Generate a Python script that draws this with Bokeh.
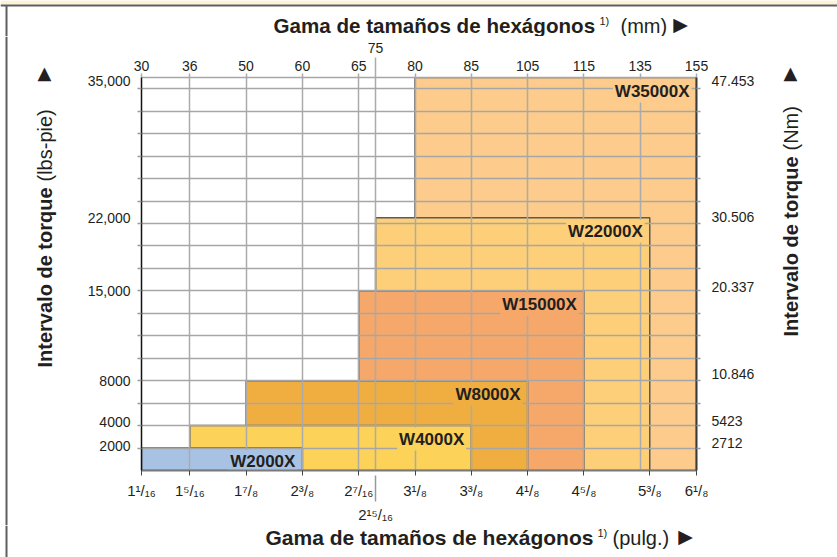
import numpy as np
from bokeh.plotting import figure
from bokeh.layouts import column, row
from bokeh.models import (ColumnDataSource, LinearAxis, FixedTicker, Range1d, Grid)
from bokeh.embed import file_html
from bokeh.resources import INLINE
from bokeh.core.properties import value

# ---------------- data ----------------
tools = ["W35000X", "W22000X", "W15000X", "W8000X", "W4000X", "W2000X"]
hex_min = ["3¹/₈", "2¹⁵/₁₆", "2⁷/₁₆", "1⁷/₈", "1⁵/₁₆", "1¹/₁₆"]
hex_max = ["6¹/₈", "5³/₈", "4⁵/₈", "4¹/₈", "3³/₈", "2³/₈"]
torque_max = [35000, 22000, 15000, 8000, 4000, 2000]
colors = ["#FDCB8B", "#FECF79", "#F6A86B", "#F0AE40", "#FDD259", "#A8C2E4"]

inch_labels = ["1¹/₁₆", "1⁵/₁₆", "1⁷/₈", "2³/₈", "2⁷/₁₆", "2¹⁵/₁₆", "3¹/₈",
               "3³/₈", "4¹/₈", "4⁵/₈", "5³/₈", "6¹/₈"]
mm_labels = ["30", "36", "50", "60", "65", "75", "80", "85", "105", "115", "135", "155"]
torque_ticks = [2000, 4000, 8000, 15000, 22000, 35000]
lbft_labels = ["2000", "4000", "8000", "15,000", "22,000", "35,000"]
nm_labels = ["2712", "5423", "10.846", "20.337", "30.506", "47.453"]

# ------------- non-uniform axis layout (slot units) -------------
inch_pos = [0.142, 1, 2, 3, 4, 4.3, 5, 6, 7, 8, 9.17, 10]
mm_pos = [0.142, 1, 2, 3, 4, 4.3, 5, 6, 7, 8, 9, 10]
torque_pos = [1, 2, 4, 8, 11.25, 17.5]
grid_rows = list(range(1, 18))
lbft_shift_px = [-2, -4, 0, 0, 0, 4]     # small vertical nudges of tick labels
nm_shift_px = [-5, -5, -7, -4, -1, 4]

# ------------- page layout -------------
PAGE_W, PAGE_H = 837, 557
TOP_H, BOT_Y = 36, 525
LEFT_W, MAIN_W = 70, 690
FRAME_L, FRAME_R, FRAME_T, FRAME_B = 141, 696, 77, 471
X_START, X_END = 0.142, 10.0
Y_START, Y_END = 0.0, 17.5
PX_PER_Y = (FRAME_B - FRAME_T) / (Y_END - Y_START)

FONT = "Liberation Sans"
TXT = "#231F20"
FRAME_COL = "#5e5e5e"


def no_align(f):
    if "frame_align" in f.properties():
        f.frame_align = False


def y_of(t):
    return float(np.interp(t, [0] + torque_ticks, [0] + torque_pos))


x0 = [inch_pos[inch_labels.index(m)] for m in hex_min]
x1 = [inch_pos[inch_labels.index(m)] for m in hex_max]
top = [y_of(t) for t in torque_max]
src = ColumnDataSource(dict(tool=tools, x0=x0, x1=x1, y0=[0] * len(tools), top=top, color=colors))

MAIN_H = BOT_Y - TOP_H
p = figure(width=MAIN_W, height=MAIN_H, x_range=Range1d(X_START, X_END),
           y_range=Range1d(Y_START, Y_END), output_backend="svg", toolbar_location=None,
           x_axis_location=None, y_axis_location=None,
           min_border_left=FRAME_L - LEFT_W, min_border_right=LEFT_W + MAIN_W - FRAME_R,
           min_border_top=FRAME_T - TOP_H, min_border_bottom=BOT_Y - FRAME_B)
no_align(p)
p.grid.visible = False
p.outline_line_color = None
p.background_fill_color = "white"
p.border_fill_color = "white"

# boxes (behind grid)
p.quad(left="x0", right="x1", bottom="y0", top="top", source=src, fill_color="color",
       line_color="#5a5a5a", line_width=1.5, level="image")

# grids
xgrid_ticks = [v for v in mm_pos if X_START < v < X_END]
p.add_layout(Grid(dimension=0, ticker=FixedTicker(ticks=xgrid_ticks), grid_line_color="#ABABAB",
                  grid_line_width=1.5))
p.add_layout(Grid(dimension=1, ticker=FixedTicker(ticks=grid_rows), grid_line_color="#A6A6A6",
                  grid_line_width=1.4))

# box labels
p.text(x="x1", y="top", text="tool", source=src, x_offset=-5, y_offset=2,
       text_align="right", text_baseline="top", text_font=value(FONT),
       text_font_style="bold", text_font_size="17px", text_color=TXT,
       background_fill_color="color", padding=2)


def style_axis(ax, size="14px"):
    ax.major_label_text_font = FONT
    ax.major_label_text_font_size = size
    ax.major_label_text_color = TXT
    ax.minor_tick_in = 0
    ax.minor_tick_out = 0
    ax.major_tick_in = 0


# bottom axes
main_in = [(pos, lab) for pos, lab in zip(inch_pos, inch_labels) if lab != "2¹⁵/₁₆"]
ax_b = LinearAxis(ticker=FixedTicker(ticks=[a for a, _ in main_in]),
                  major_label_overrides={a: b for a, b in main_in})
style_axis(ax_b, "15px")
ax_b.major_tick_out = 5
ax_b.axis_line_color = "#7a7a7a"
ax_b.axis_line_width = 2
ax_b.major_tick_line_color = "#444444"
ax_b.major_label_standoff = 6
p.add_layout(ax_b, "below")

i_ex = inch_labels.index("2¹⁵/₁₆")
ax_b2 = LinearAxis(ticker=FixedTicker(ticks=[inch_pos[i_ex]]),
                   major_label_overrides={inch_pos[i_ex]: inch_labels[i_ex]})
style_axis(ax_b2, "15px")
ax_b2.axis_line_color = None
ax_b2.major_tick_out = 0
ax_b2.major_tick_in = 26
ax_b2.major_tick_line_color = "#999999"
ax_b2.major_tick_line_width = 1.5
ax_b2.major_label_standoff = 4
p.add_layout(ax_b2, "below")

# top axes
main_mm = [(pos, lab) for pos, lab in zip(mm_pos, mm_labels) if lab != "75"]
ax_t = LinearAxis(ticker=FixedTicker(ticks=[a for a, _ in main_mm]),
                  major_label_overrides={a: b for a, b in main_mm})
style_axis(ax_t)
ax_t.major_tick_out = 4
ax_t.axis_line_color = "#A6A6A6"
ax_t.axis_line_width = 1.5
ax_t.major_tick_line_color = "#ABABAB"
ax_t.major_tick_line_width = 1.5
ax_t.major_label_standoff = 3
p.add_layout(ax_t, "above")

i_75 = mm_labels.index("75")
ax_t2 = LinearAxis(ticker=FixedTicker(ticks=[mm_pos[i_75]]),
                   major_label_overrides={mm_pos[i_75]: mm_labels[i_75]})
style_axis(ax_t2)
ax_t2.axis_line_color = None
ax_t2.major_tick_out = 0
ax_t2.major_tick_in = 20
ax_t2.major_tick_line_color = "#ABABAB"
ax_t2.major_tick_line_width = 1.5
ax_t2.major_label_standoff = 5
p.add_layout(ax_t2, "above")

# left / right axes
lbft_lab_pos = [tp - s / PX_PER_Y for tp, s in zip(torque_pos, lbft_shift_px)]
nm_lab_pos = [tp - s / PX_PER_Y for tp, s in zip(torque_pos, nm_shift_px)]

ax_l = LinearAxis(ticker=FixedTicker(ticks=lbft_lab_pos, minor_ticks=grid_rows),
                  major_label_overrides={a: b for a, b in zip(lbft_lab_pos, lbft_labels)})
style_axis(ax_l)
ax_l.major_tick_out = 0
ax_l.minor_tick_out = 4
ax_l.minor_tick_line_color = "#9a9a9a"
ax_l.minor_tick_line_width = 1.3
ax_l.axis_line_color = "#111111"
ax_l.axis_line_width = 1.5
ax_l.major_label_standoff = 7
p.add_layout(ax_l, "left")

ax_r = LinearAxis(ticker=FixedTicker(ticks=nm_lab_pos, minor_ticks=grid_rows),
                  major_label_overrides={a: b for a, b in zip(nm_lab_pos, nm_labels)})
style_axis(ax_r)
ax_r.major_tick_out = 0
ax_r.minor_tick_out = 4
ax_r.minor_tick_line_color = "#9a9a9a"
ax_r.minor_tick_line_width = 1.3
ax_r.axis_line_color = "#3a3a3a"
ax_r.axis_line_width = 2
ax_r.major_label_standoff = 11
p.add_layout(ax_r, "right")


# ------------- title panels (page-pixel coordinates) -------------
def panel(x_left, x_right, y_top, y_bot):
    f = figure(width=x_right - x_left, height=y_bot - y_top,
               x_range=Range1d(x_left, x_right), y_range=Range1d(y_bot, y_top),
               output_backend="svg", toolbar_location=None, min_border=0,
               min_border_left=0, min_border_right=0, min_border_top=0, min_border_bottom=0,
               x_axis_location=None, y_axis_location=None)
    no_align(f)
    f.grid.visible = False
    f.outline_line_color = None
    f.background_fill_color = "white"
    f.border_fill_color = "white"
    return f


def txt(f, s, x, y, size, bold=False, align="left", angle=0.0, font=FONT):
    f.text(x=[x], y=[y], text=[s], text_font=value(font), text_font_size=size,
           text_font_style="bold" if bold else "normal", text_color=TXT,
           text_align=align, text_baseline="middle", angle=angle)


top_f = panel(0, PAGE_W, 0, TOP_H)
top_f.quad(left=[0], right=[PAGE_W], top=[0], bottom=[4], fill_color="#FFF3D3", line_color=None)
top_f.segment(x0=[0], y0=[5], x1=[PAGE_W], y1=[5], line_color=FRAME_COL, line_width=2)
top_f.segment(x0=[6], y0=[5], x1=[6], y1=[TOP_H], line_color=FRAME_COL, line_width=2)
txt(top_f, "Gama de tamaños de hexágonos", 273, 25, "20.6px", bold=True)
txt(top_f, "1)", 599, 20, "11px")
txt(top_f, "(mm)", 620, 25, "20px")
txt(top_f, "▶", 680, 23, "19px", align="center", font="DejaVu Sans")

left_f = panel(0, LEFT_W, TOP_H, BOT_Y)
left_f.segment(x0=[6], y0=[TOP_H], x1=[6], y1=[BOT_Y], line_color=FRAME_COL, line_width=2)
txt(left_f, "Intervalo de torque", 44, 367, "20px", bold=True, angle=np.pi / 2)
txt(left_f, "(lbs-pie)", 44, 181, "20px", angle=np.pi / 2)
txt(left_f, "▲", 44, 72, "18px", align="center", font="DejaVu Sans")

right_f = panel(LEFT_W + MAIN_W, PAGE_W, TOP_H, BOT_Y)
txt(right_f, "Intervalo de torque", 790, 336, "20px", bold=True, angle=np.pi / 2)
txt(right_f, "(Nm)", 790, 150, "20px", angle=np.pi / 2)
txt(right_f, "▲", 790, 72, "18px", align="center", font="DejaVu Sans")

bot_f = panel(0, PAGE_W, BOT_Y, PAGE_H)
bot_f.segment(x0=[6], y0=[BOT_Y], x1=[6], y1=[PAGE_H], line_color=FRAME_COL, line_width=2)
txt(bot_f, "Gama de tamaños de hexágonos", 265, 537, "21px", bold=True)
txt(bot_f, "1)", 597, 532, "11px")
txt(bot_f, "(pulg.)", 612, 537, "20px")
txt(bot_f, "▶", 685, 535, "19px", align="center", font="DejaVu Sans")

layout = column(top_f, row(left_f, p, right_f), bot_f)
open("out.html", "w").write(file_html(layout, INLINE))
